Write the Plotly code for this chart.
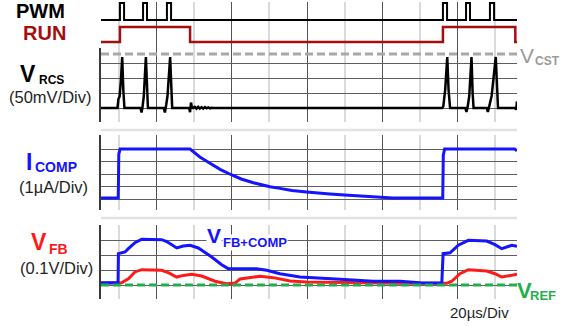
import plotly.graph_objects as go

# ---------------- data (time in microseconds, 20 us / div) ----------------
T0, T1 = -9.57, 211.7

pwm_rise = [0.5, 12.8, 25.5, 172.3, 184.6, 197.3]
pwm_fall = [2.7, 14.9, 27.7, 174.5, 186.7, 199.5]

run_t = [T0, 0.5, 37.8, 172.3, 210.8, T1]
run_v = [0, 1, 0, 1, 0, 0]

vcst_mv = 180

vrcs_t = [T0, -0.8, -0.3, 0.3, 1.0, 1.7, 2.3, 2.9,
          11.4, 12.0, 12.5, 13.2, 14.3, 14.9, 15.4,
          23.8, 24.4, 24.9, 25.8, 27.2, 27.8, 28.3,
          37.3, 37.8, 38.3, 38.8, 39.4, 40.3, 41.2, 42.1, 43.0, 43.9, 44.8, 45.7,
          46.6, 47.5, 48.4, 49.3, 50.5,
          171.8, 172.5, 173.5, 174.6, 175.3, 176.1,
          184.2, 184.8, 185.4, 186.3, 187.5, 188.1, 188.6,
          195.6, 196.2, 196.8, 198.2, 200.4, 201.0, 201.6,
          210.8, 211.2, T1]
vrcs_mv = [0, 0, 30, 38, 90, 170, 60, 0,
           0, -15, 2, 40, 170, 50, 0,
           0, -15, 2, 40, 170, 50, 0,
           0, -14, 18, 2, 0, 4, -2, 4, -2, 3, -2, 3,
           -1, 2, -1, 1, 0,
           0, 5, 60, 170, 60, 0,
           0, -13, 2, 40, 170, 50, 0,
           0, -13, 2, 40, 170, 50, 0,
           0, -6, 22]

icomp_t = [T0, -0.4, -0.1, 0.6, 37.8, 43, 48.4, 54, 60, 65, 71.5, 80.3, 85.6, 92,
           99.8, 106, 112.2, 120, 130, 139.7, 145.8, 155, 172.2, 172.5, 173.2,
           210.5, T1]
icomp_ua = [0.08, 0.08, 3.6, 4.0, 4.0, 3.36, 2.86, 2.35, 1.92, 1.6, 1.30, 0.98, 0.85,
            0.68, 0.56, 0.46, 0.40, 0.32, 0.22, 0.14, 0.08, 0.08, 0.08, 3.5, 4.0,
            4.0, 3.85]

vfbc_t = [T0, -0.5, -0.3, 3.2, 5.0, 8.5, 12.1, 22.7, 25.4, 30.7, 34.2, 37.8, 42.2,
          49.3, 54.6, 58.1, 67.0, 73.2, 78.6, 85.6, 96.3, 108.7, 117.6, 135.3,
          149.5, 160.1, 171.7, 172.4, 176.1, 180.5, 185.8, 195.6, 200.0, 203.6,
          206.2, 208.9, T1]
vfbc_v = [0.015, 0.015, 0.209, 0.22, 0.242, 0.282, 0.305, 0.302, 0.29, 0.247, 0.26,
          0.265, 0.247, 0.187, 0.135, 0.109, 0.109, 0.109, 0.098, 0.075, 0.053,
          0.047, 0.038, 0.025, 0.025, 0.015, 0.013, 0.209, 0.215, 0.265, 0.298,
          0.293, 0.269, 0.242, 0.253, 0.265, 0.258]

vfb_t = [T0, 1.4, 5.0, 8.5, 12.1, 22.7, 26.2, 30.7, 34.2, 38.7, 44.0, 51.1, 57.3,
         61.7, 64.4, 75.0, 82.1, 91.0, 99.8, 117.6, 149.5, 174.3, 177.0, 181.4,
         185.8, 195.6, 200.0, 203.6, 208.0, T1]
vfb_v = [0.011, 0.015, 0.042, 0.087, 0.102, 0.098, 0.082, 0.053, 0.064, 0.071, 0.06,
         0.025, 0.009, 0.013, 0.04, 0.058, 0.049, 0.027, 0.02, 0.016, 0.011, 0.011,
         0.025, 0.075, 0.102, 0.093, 0.075, 0.053, 0.064, 0.071]

vref_v = 0.0

# ---------------- styling ----------------
W, H = 562, 326
L, R = 101, 517
FONT = "Liberation Sans, Arial, sans-serif"
BLUE = "#1414ff"
RED = "#ff1a1a"
DARKRED = "#a30f0f"
GREEN = "#1fb04c"
GRAY = "#a8a8a8"


def fy(py):
    return 1 - py / H


def fx(px):
    return (px - L) / (R - L)


# PWM step built from the edges
pwm_t, pwm_v = [T0], [0]
for r, f in zip(pwm_rise, pwm_fall):
    pwm_t += [r, r, f, f]
    pwm_v += [0, 1, 1, 0]
pwm_t.append(T1)
pwm_v.append(0)

fig = go.Figure()
fig.add_trace(go.Scatter(x=pwm_t, y=pwm_v, xaxis="x", yaxis="y", mode="lines",
                         line=dict(color="black", width=2)))
fig.add_trace(go.Scatter(x=run_t, y=run_v, xaxis="x2", yaxis="y2", mode="lines",
                         line=dict(color=DARKRED, width=2.5, shape="hv")))
fig.add_trace(go.Scatter(x=[T0, T1], y=[vcst_mv, vcst_mv], xaxis="x3", yaxis="y3",
                         mode="lines", line=dict(color=GRAY, width=3, dash="8px,4px")))
fig.add_trace(go.Scatter(x=vrcs_t, y=vrcs_mv, xaxis="x3", yaxis="y3", mode="lines",
                         line=dict(color="black", width=2.5)))
fig.add_trace(go.Scatter(x=icomp_t, y=icomp_ua, xaxis="x4", yaxis="y4", mode="lines",
                         line=dict(color=BLUE, width=3)))
fig.add_trace(go.Scatter(x=vfb_t, y=vfb_v, xaxis="x5", yaxis="y5", mode="lines",
                         line=dict(color=RED, width=3)))
fig.add_trace(go.Scatter(x=vfbc_t, y=vfbc_v, xaxis="x5", yaxis="y5", mode="lines",
                         line=dict(color=BLUE, width=3)))
fig.add_trace(go.Scatter(x=[T0, T1], y=[vref_v, vref_v], xaxis="x5", yaxis="y5",
                         mode="lines", line=dict(color=GREEN, width=3, dash="8px,4px")))

# panel pixel extents (top, bottom) and value ranges
panels = [
    ((2, 24), [(20 - 24) / 17, (20 - 2) / 17], None),
    ((24, 48), [(42 - 48) / 15, (42 - 24) / 15], None),
    ((48, 122), [(108 - 122) / 0.3, (108 - 48) / 0.3], [0, 50, 100, 150]),
    ((135, 210), [(199 - 210) / 12.5, (199 - 135) / 12.5], [0, 1, 2, 3, 4]),
    ((225, 299), [(285 - 299) / 150, (285 - 225) / 150], [0, 0.1, 0.2, 0.3]),
]

layout = dict(width=W, height=H, margin=dict(l=L, r=W - R, t=0, b=0),
              paper_bgcolor="white", plot_bgcolor="white", showlegend=False,
              font=dict(family=FONT))
for i, ((ptop, pbot), rng, tv) in enumerate(panels, start=1):
    sx = "" if i == 1 else str(i)
    layout["xaxis" + sx] = dict(
        domain=[0, 1], anchor="y" + sx, range=[T0, T1], showticklabels=False,
        ticks="", zeroline=False, showline=False,
        showgrid=True, tick0=20, dtick=40, gridcolor="#545454", gridwidth=1.2,
        minor=dict(tick0=0, dtick=20, showgrid=True, gridcolor="#dadada", gridwidth=1.5),
    )
    ya = dict(domain=[fy(pbot), fy(ptop)], anchor="x" + sx, range=rng,
              showticklabels=False, ticks="", zeroline=False)
    if tv is None:
        ya.update(showgrid=False, showline=False)
    else:
        ya.update(showgrid=True, tickmode="array", tickvals=tv, gridcolor="#5e5e5e",
                  gridwidth=1.2, showline=True, linecolor="#3a3a3a", linewidth=1.5)
    layout["yaxis" + sx] = ya

fig.update_layout(**layout)

# separators between panels
for py in (130, 218):
    fig.add_shape(type="line", xref="paper", yref="paper", x0=0, x1=1,
                  y0=fy(py), y1=fy(py), line=dict(color="#e2e2e2", width=2.5))


def txt(s, px, py, size, color, bold=False, xanchor="left", bg=None):
    fig.add_annotation(text=s, x=fx(px), y=fy(py), xref="paper", yref="paper",
                       xanchor=xanchor, yanchor="middle", showarrow=False,
                       borderpad=0, bgcolor=bg,
                       font=dict(family=FONT, size=size, color=color,
                                 weight="bold" if bold else "normal"))


txt("PWM", 66, 11, 20, "black", True, "right")
txt("RUN", 67, 33.5, 20, DARKRED, True, "right")
txt("V", 37.5, 73.5, 23, "black", True, "right")
txt("RCS", 38, 79.5, 12, "black", True, "left")
txt("(50mV/Div)", 50, 97, 16.5, "#1e1e1e", False, "center")
txt("I", 33, 161.5, 23, BLUE, True, "right")
txt("COMP", 33.5, 167, 14, BLUE, True, "left")
txt("(1\u00b5A/Div)", 53, 187, 16.5, "#1e1e1e", False, "center")
txt("V", 47.5, 242, 23, RED, True, "right")
txt("FB", 48, 248.5, 14, RED, True, "left")
txt("(0.1V/Div)", 56.5, 268, 16.5, "#1e1e1e", False, "center")
txt("V", 222, 235.5, 21, BLUE, True, "right", "white")
txt("FB+COMP", 222, 242.5, 13, BLUE, True, "left", "white")
txt("V", 519, 55.5, 21, "#9a9a9a", False, "left")
txt("CST", 534, 60.5, 12, "#9a9a9a", True, "left")
txt("V", 516, 290, 22, GREEN, True, "left")
txt("REF", 529, 295.5, 13, GREEN, True, "left")
txt("20\u00b5s/Div", 479, 312, 15, "#1e1e1e", False, "center")

fig.write_html("out.html")
